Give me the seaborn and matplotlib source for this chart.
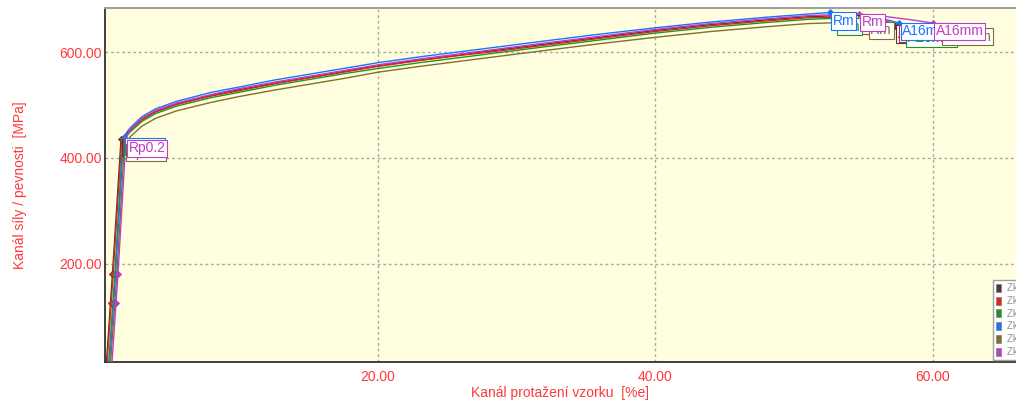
import pandas as pd
import matplotlib
matplotlib.use("Agg")
import matplotlib.pyplot as plt
from matplotlib.patches import Patch
from matplotlib.ticker import MultipleLocator, FormatStrFormatter
import seaborn as sns

# -------------------- DATA --------------------
samples = ["Zk: 1", "Zk: 2", "Zk: 3", "Zk: 4", "Zk: 5", "Zk: 6"]
colors = ["#4a3a3a", "#e8201c", "#1e961e", "#1a74ff", "#807028", "#c03cc8"]

dark_strain = [0.45, 0.74, 0.88, 1.50, 1.80, 2.2, 3, 4, 5.5, 8, 10, 12.5, 15, 17.5, 20,
               23, 26, 29, 32, 36, 40, 44, 48, 51, 53.2, 55.0, 56.5, 57.3]
dark_stress = [15, 126, 181, 436, 444, 454, 473, 488, 502, 518, 529, 541, 552, 563, 574,
               585, 595, 605, 615, 628, 641, 652, 661, 667, 669, 666, 659, 650]

red_strain = [0.50, 0.79, 0.93, 1.55, 1.85, 2.2, 3, 4, 5.5, 8, 10, 12.5, 15, 17.5, 20,
              23, 26, 29, 32, 36, 40, 44, 48, 51, 54.5, 56.5, 57.5]
red_stress = [15, 126, 181, 435, 443, 453, 472, 487, 501, 517, 527, 540, 551, 562, 573,
              584, 594, 603, 613, 626, 639, 650, 659, 665, 667, 660, 651]

green_strain = [0.62, 0.91, 1.05, 1.62, 1.90, 2.2, 3, 4, 5.5, 8, 10, 12.5, 15, 17.5, 20,
                23, 26, 29, 32, 36, 40, 44, 48, 51, 53.0, 55.5, 57.3, 58.0]
green_stress = [15, 126, 181, 433, 442, 450, 469, 484, 498, 514, 524, 537, 548, 559, 569,
                580, 590, 600, 610, 623, 636, 647, 656, 662, 664, 659, 650, 642]

blue_strain = [0.68, 0.97, 1.11, 1.68, 1.95, 2.2, 3, 4, 5.5, 8, 10, 12.5, 15, 17.5, 20,
               23, 26, 29, 32, 36, 40, 44, 48, 51, 52.6, 54.5, 56.3, 57.6]
blue_stress = [15, 126, 181, 438, 450, 458, 478, 493, 507, 524, 534, 547, 558, 569, 580,
               591, 601, 611, 621, 634, 646, 657, 666, 672, 675, 672, 664, 655]

olive_strain = [0.75, 1.05, 1.20, 1.75, 2.00, 2.2, 3, 4, 5.5, 8, 10, 12.5, 15, 17.5, 20,
                23, 26, 29, 32, 36, 40, 44, 48, 51, 53.5, 55.3, 58.0, 60.6]
olive_stress = [15, 126, 181, 426, 434, 441, 460, 475, 489, 505, 516, 528, 539, 550, 562,
                573, 583, 593, 603, 616, 628, 639, 648, 654, 656, 657, 652, 645]

magenta_strain = [0.85, 1.14, 1.28, 1.85, 2.05, 2.2, 3, 4, 5.5, 8, 10, 12.5, 15, 17.5, 20,
                  23, 26, 29, 32, 36, 40, 44, 48, 51, 53.0, 54.7, 56.1, 58.5, 60.0]
magenta_stress = [15, 126, 181, 434, 448, 455, 475, 490, 504, 520, 531, 543, 554, 565, 576,
                  587, 597, 607, 617, 630, 643, 654, 663, 669, 671, 672, 669, 661, 655]

x_ticks = [20, 40, 60]
y_ticks = [200, 400, 600]

curves = [
    (dark_strain, dark_stress),
    (red_strain, red_stress),
    (green_strain, green_stress),
    (blue_strain, blue_stress),
    (olive_strain, olive_stress),
    (magenta_strain, magenta_stress),
]

# long-form table for seaborn
rows = []
for name, (xs, ys) in zip(samples, curves):
    for x, y in zip(xs, ys):
        rows.append({"sample": name, "strain": x, "stress": y})
df = pd.DataFrame(rows)

# -------------------- PLOT --------------------
sns.set_style("white")
plt.rcParams["font.family"] = ["Liberation Sans", "DejaVu Sans"]

label_red = "#ff3838"
fig = plt.figure(figsize=(10.16, 4.01), dpi=100)
ax = fig.add_axes([0.1033, 0.0973, 0.8967, 0.8828])
ax.set_facecolor("#ffffe0")

palette = dict(zip(samples, colors))
sns.lineplot(data=df, x="strain", y="stress", hue="sample", palette=palette,
             sort=False, estimator=None, linewidth=1.0, legend=False, ax=ax, zorder=3)

# markers: elastic points, Rp0.2, Rm, A16mm
for k, (name, (xs, ys)) in enumerate(zip(samples, curves)):
    i_rm = ys.index(max(ys[5:]))
    pts = pd.DataFrame({"strain": [xs[1], xs[2], xs[3], xs[i_rm], xs[-1]],
                        "stress": [ys[1], ys[2], ys[3], ys[i_rm], ys[-1]]})
    sns.scatterplot(data=pts, x="strain", y="stress", color=colors[k], marker="D",
                    s=10, edgecolor=colors[k], linewidth=0.5, ax=ax, zorder=4 + k)
    for (lx, ly, txt) in [(xs[3], ys[3], "Rp0.2"), (xs[i_rm], ys[i_rm], "Rm"),
                          (xs[-1], ys[-1], "A16mm")]:
        ax.annotate(txt, (lx, ly), xytext=(2, -1), textcoords="offset points",
                    ha="left", va="top", fontsize=10, color=colors[k], zorder=10 + k,
                    bbox=dict(boxstyle="square,pad=0.12", facecolor="white",
                              edgecolor=colors[k], linewidth=0.8))

ax.set_xlim(0.34, 66.0)
ax.set_ylim(14.2, 683.5)
ax.set_xticks(x_ticks)
ax.set_yticks(y_ticks)
ax.xaxis.set_major_formatter(FormatStrFormatter("%.2f"))
ax.yaxis.set_major_formatter(FormatStrFormatter("%.2f"))
ax.xaxis.set_minor_locator(MultipleLocator(5))
ax.yaxis.set_minor_locator(MultipleLocator(50))
ax.tick_params(axis="both", which="both", direction="in", colors="#909090",
               labelcolor=label_red, labelsize=10)
ax.tick_params(axis="both", which="major", length=5)
ax.tick_params(axis="both", which="minor", length=3)
ax.tick_params(axis="x", which="major", pad=6)
ax.tick_params(axis="y", which="major", pad=2)

ax.grid(True, which="major", color="#a8a8a8", linestyle=(0, (2, 2)), linewidth=1.0)
ax.set_axisbelow(True)

for side in ["left", "bottom"]:
    ax.spines[side].set_color("#303030")
    ax.spines[side].set_linewidth(1.3)
ax.spines["top"].set_color("#a0a0a0")
ax.spines["top"].set_linewidth(1.5)
ax.spines["right"].set_visible(False)

ax.set_xlabel("Kanál protažení vzorku  [%e]", color=label_red, fontsize=10)
ax.set_ylabel("Kanál síly / pevnosti  [MPa]", color=label_red, fontsize=10)
ax.xaxis.set_label_coords(0.5, -0.068)
ax.yaxis.set_label_coords(-0.086, 0.5)

handles = [Patch(facecolor=c, edgecolor="#808080", linewidth=0.5) for c in colors]
leg = ax.legend(handles, samples, loc="lower left", bbox_to_anchor=(0.975, 0.006),
                fontsize=7, frameon=True, fancybox=False, framealpha=1,
                edgecolor="#a0a0a0", handlelength=0.5, handleheight=0.9,
                handletextpad=0.6, borderpad=0.3, labelspacing=0.28, borderaxespad=0)
for t in leg.get_texts():
    t.set_color("#909090")
leg.set_zorder(20)

fig.savefig("out.png", dpi=100)
